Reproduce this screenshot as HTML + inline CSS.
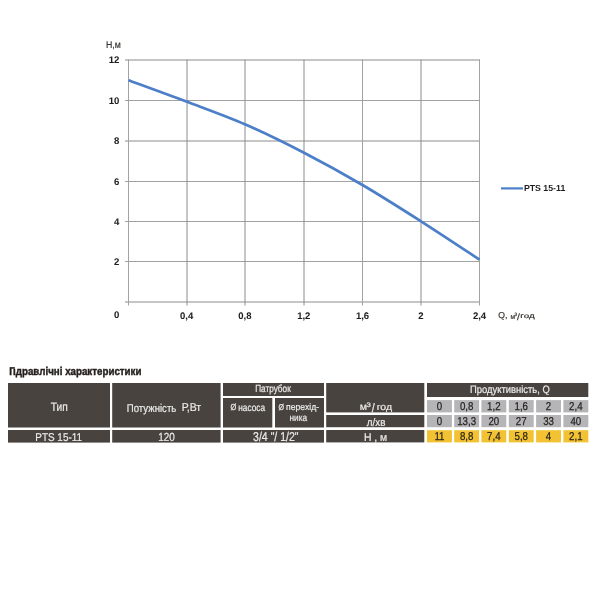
<!DOCTYPE html>
<html><head><meta charset="utf-8"><style>
html,body{margin:0;padding:0;background:#fff;width:600px;height:600px;overflow:hidden}
svg{display:block;font-family:"Liberation Sans",sans-serif;will-change:transform}
text{text-rendering:geometricPrecision}
</style></head><body>
<svg width="600" height="600" viewBox="0 0 600 600">
<rect x="0" y="0" width="600" height="600" fill="#fff"/>
<line x1="125" y1="60.00" x2="480" y2="60.00" stroke="#8c8c8c" stroke-width="1"/>
<line x1="125" y1="100.50" x2="480" y2="100.50" stroke="#a2a2a2" stroke-width="1"/>
<line x1="125" y1="141.00" x2="480" y2="141.00" stroke="#8c8c8c" stroke-width="1"/>
<line x1="125" y1="181.50" x2="480" y2="181.50" stroke="#a2a2a2" stroke-width="1"/>
<line x1="125" y1="221.50" x2="480" y2="221.50" stroke="#a2a2a2" stroke-width="1"/>
<line x1="125" y1="261.50" x2="480" y2="261.50" stroke="#a2a2a2" stroke-width="1"/>
<line x1="125" y1="302.00" x2="480" y2="302.00" stroke="#8c8c8c" stroke-width="1"/>
<line x1="128.50" y1="59.5" x2="128.50" y2="305.5" stroke="#a2a2a2" stroke-width="1"/>
<line x1="187.00" y1="59.5" x2="187.00" y2="305.5" stroke="#8c8c8c" stroke-width="1"/>
<line x1="245.00" y1="59.5" x2="245.00" y2="305.5" stroke="#8c8c8c" stroke-width="1"/>
<line x1="304.00" y1="59.5" x2="304.00" y2="305.5" stroke="#8c8c8c" stroke-width="1"/>
<line x1="362.50" y1="59.5" x2="362.50" y2="305.5" stroke="#a2a2a2" stroke-width="1"/>
<line x1="421.00" y1="59.5" x2="421.00" y2="305.5" stroke="#8c8c8c" stroke-width="1"/>
<line x1="479.50" y1="59.5" x2="479.50" y2="305.5" stroke="#a2a2a2" stroke-width="1"/>
<path d="M128.50,80.17 C138.25,83.76 167.50,94.35 187.00,101.75 C206.50,109.14 226.00,116.03 245.50,124.53 C265.00,133.04 284.50,142.68 304.00,152.77 C323.50,162.85 343.00,173.61 362.50,185.03 C382.00,196.46 401.50,208.90 421.00,221.33 C440.50,233.77 469.75,253.26 479.50,259.65" fill="none" stroke="#4c7fc8" stroke-width="2.7"/>
<line x1="501" y1="188.4" x2="523" y2="188.4" stroke="#4c7fc8" stroke-width="2.2"/>
<rect x="8" y="383" width="102.00" height="44.50" fill="#48433e"/>
<rect x="8" y="430" width="102.00" height="12.60" fill="#48433e"/>
<rect x="112.2" y="383" width="108.40" height="44.50" fill="#48433e"/>
<rect x="112.2" y="430" width="108.40" height="12.60" fill="#48433e"/>
<rect x="223" y="383" width="101.00" height="13.00" fill="#48433e"/>
<rect x="223" y="398" width="49.30" height="29.50" fill="#48433e"/>
<rect x="275" y="398" width="49.00" height="29.50" fill="#48433e"/>
<rect x="223" y="430" width="101.00" height="12.60" fill="#48433e"/>
<rect x="326.2" y="383" width="98.10" height="29.40" fill="#48433e"/>
<rect x="326.2" y="415" width="98.10" height="12.20" fill="#48433e"/>
<rect x="326.2" y="430" width="98.10" height="12.40" fill="#48433e"/>
<rect x="427" y="383" width="161.30" height="14.00" fill="#48433e"/>
<text x="106.00" y="48.00" font-size="9.80" font-weight="normal" fill="#3a3632" stroke="#3a3632" stroke-width="0.2" textLength="14.86" lengthAdjust="spacingAndGlyphs">Н,м</text>
<text x="498.28" y="318.20" font-size="8.57" font-weight="normal" fill="#3a3632" stroke="#3a3632" stroke-width="0.2" textLength="9.12" lengthAdjust="spacingAndGlyphs">Q,</text>
<text x="510.45" y="318.65" font-size="7.03" font-weight="normal" fill="#3a3632" stroke="#3a3632" stroke-width="0.2" textLength="4.55" lengthAdjust="spacingAndGlyphs">м</text>
<text x="514.40" y="316.20" font-size="4.81" font-weight="normal" fill="#3a3632" stroke="#3a3632" stroke-width="0.2" textLength="2.60" lengthAdjust="spacingAndGlyphs">3</text>
<text x="517.00" y="319.60" font-size="9.08" font-weight="normal" fill="#3a3632" stroke="#3a3632" stroke-width="0.2" textLength="2.88" lengthAdjust="spacingAndGlyphs">/</text>
<text x="520.25" y="318.25" font-size="6.56" font-weight="normal" fill="#3a3632" stroke="#3a3632" stroke-width="0.2" textLength="14.46" lengthAdjust="spacingAndGlyphs">год</text>
<text x="523.90" y="191.10" font-size="8.79" font-weight="bold" fill="#1e1e1e" textLength="41.41" lengthAdjust="spacingAndGlyphs">PTS 15-11</text>
<text x="9.25" y="375.25" font-size="11.32" font-weight="bold" fill="#231f1c" stroke="#231f1c" stroke-width="0.45" textLength="132.26" lengthAdjust="spacingAndGlyphs">Г<tspan dx="-2">ı</tspan>дравлічні характеристики</text>
<text x="50.75" y="410.75" font-size="12.15" font-weight="normal" fill="#ececec" stroke="#ececec" stroke-width="0.2" textLength="17.07" lengthAdjust="spacingAndGlyphs">Тип</text>
<text x="126.78" y="411.59" font-size="11.31" font-weight="normal" fill="#ececec" stroke="#ececec" stroke-width="0.2" textLength="49.53" lengthAdjust="spacingAndGlyphs">Потужність</text>
<text x="181.78" y="410.80" font-size="11.40" font-weight="normal" fill="#ececec" stroke="#ececec" stroke-width="0.2" textLength="19.30" lengthAdjust="spacingAndGlyphs">Р,Вт</text>
<text x="35.25" y="440.70" font-size="11.39" font-weight="normal" fill="#ececec" stroke="#ececec" stroke-width="0.2" textLength="46.81" lengthAdjust="spacingAndGlyphs">PTS 15-11</text>
<text x="158.25" y="440.75" font-size="11.75" font-weight="normal" fill="#ececec" stroke="#ececec" stroke-width="0.2" textLength="16.57" lengthAdjust="spacingAndGlyphs">120</text>
<text x="255.15" y="392.30" font-size="10.27" font-weight="normal" fill="#ececec" stroke="#ececec" stroke-width="0.2" textLength="35.60" lengthAdjust="spacingAndGlyphs">Патрубок</text>
<text x="230.45" y="410.40" font-size="8.94" font-weight="normal" fill="#ececec" stroke="#ececec" stroke-width="0.2" textLength="5.84" lengthAdjust="spacingAndGlyphs">Ø</text>
<text x="238.25" y="410.65" font-size="10.06" font-weight="normal" fill="#ececec" stroke="#ececec" stroke-width="0.2" textLength="26.79" lengthAdjust="spacingAndGlyphs">насоса</text>
<text x="278.50" y="409.70" font-size="8.54" font-weight="normal" fill="#ececec" stroke="#ececec" stroke-width="0.2" textLength="5.52" lengthAdjust="spacingAndGlyphs">Ø</text>
<text x="286.10" y="409.75" font-size="9.31" font-weight="normal" fill="#ececec" stroke="#ececec" stroke-width="0.2" textLength="32.96" lengthAdjust="spacingAndGlyphs">перехід-</text>
<text x="289.50" y="421.25" font-size="9.97" font-weight="normal" fill="#ececec" stroke="#ececec" stroke-width="0.2" textLength="17.54" lengthAdjust="spacingAndGlyphs">ника</text>
<text x="253.10" y="440.85" font-size="12.91" font-weight="normal" fill="#ececec" stroke="#ececec" stroke-width="0.2" textLength="45.45" lengthAdjust="spacingAndGlyphs">3/4 &quot;/ 1/2&quot;</text>
<text x="359.75" y="410.05" font-size="9.84" font-weight="normal" fill="#ececec" stroke="#ececec" stroke-width="0.2" textLength="7.26" lengthAdjust="spacingAndGlyphs">м</text>
<text x="366.45" y="407.35" font-size="6.36" font-weight="normal" fill="#ececec" stroke="#ececec" stroke-width="0.2" textLength="4.34" lengthAdjust="spacingAndGlyphs">3</text>
<text x="371.85" y="411.75" font-size="12.43" font-weight="normal" fill="#ececec" stroke="#ececec" stroke-width="0.2" textLength="3.02" lengthAdjust="spacingAndGlyphs">/</text>
<text x="376.70" y="409.70" font-size="9.50" font-weight="normal" fill="#ececec" stroke="#ececec" stroke-width="0.2" textLength="15.31" lengthAdjust="spacingAndGlyphs">год</text>
<text x="366.70" y="425.70" font-size="10.96" font-weight="normal" fill="#ececec" stroke="#ececec" stroke-width="0.2" textLength="18.70" lengthAdjust="spacingAndGlyphs">л/хв</text>
<text x="363.95" y="440.55" font-size="11.13" font-weight="normal" fill="#ececec" stroke="#ececec" stroke-width="0.2" textLength="23.30" lengthAdjust="spacingAndGlyphs">Н , м</text>
<text x="470.10" y="392.95" font-size="10.70" font-weight="normal" fill="#ececec" stroke="#ececec" stroke-width="0.2" textLength="79.71" lengthAdjust="spacingAndGlyphs">Продуктивність, Q</text>
<text x="119.3" y="63" font-size="9.6" font-weight="bold" fill="#1e1e1e" stroke="#1e1e1e" stroke-width="0.05" text-anchor="end">12</text>
<text x="119.3" y="104" font-size="9.6" font-weight="bold" fill="#1e1e1e" stroke="#1e1e1e" stroke-width="0.05" text-anchor="end">10</text>
<text x="119.3" y="144" font-size="9.6" font-weight="bold" fill="#1e1e1e" stroke="#1e1e1e" stroke-width="0.05" text-anchor="end">8</text>
<text x="119.3" y="185" font-size="9.6" font-weight="bold" fill="#1e1e1e" stroke="#1e1e1e" stroke-width="0.05" text-anchor="end">6</text>
<text x="119.3" y="225" font-size="9.6" font-weight="bold" fill="#1e1e1e" stroke="#1e1e1e" stroke-width="0.05" text-anchor="end">4</text>
<text x="119.3" y="265" font-size="9.6" font-weight="bold" fill="#1e1e1e" stroke="#1e1e1e" stroke-width="0.05" text-anchor="end">2</text>
<text x="119.3" y="318" font-size="9.6" font-weight="bold" fill="#1e1e1e" stroke="#1e1e1e" stroke-width="0.05" text-anchor="end">0</text>
<text x="186.60" y="319" font-size="9.50" font-weight="bold" fill="#1e1e1e" stroke="#1e1e1e" stroke-width="0.05" text-anchor="middle">0,4</text>
<text x="244.90" y="319" font-size="9.50" font-weight="bold" fill="#1e1e1e" stroke="#1e1e1e" stroke-width="0.05" text-anchor="middle">0,8</text>
<text x="303.75" y="319" font-size="9.50" font-weight="bold" fill="#1e1e1e" stroke="#1e1e1e" stroke-width="0.05" text-anchor="middle">1,2</text>
<text x="362.50" y="319" font-size="9.50" font-weight="bold" fill="#1e1e1e" stroke="#1e1e1e" stroke-width="0.05" text-anchor="middle">1,6</text>
<text x="421.00" y="319" font-size="9.50" font-weight="bold" fill="#1e1e1e" stroke="#1e1e1e" stroke-width="0.05" text-anchor="middle">2</text>
<text x="479.50" y="319" font-size="9.50" font-weight="bold" fill="#1e1e1e" stroke="#1e1e1e" stroke-width="0.05" text-anchor="middle">2,4</text>
<rect x="427" y="400.1" width="24.90" height="12.30" fill="#b5b4b7"/>
<text x="439.45" y="410.20" font-size="11.46" fill="#231f1c" stroke="#231f1c" stroke-width="0.25" text-anchor="middle" transform="translate(439.45 0) scale(0.846 1) translate(-439.45 0)">0</text>
<rect x="454.2" y="400.1" width="24.90" height="12.30" fill="#b5b4b7"/>
<text x="466.65" y="410.20" font-size="11.46" fill="#231f1c" stroke="#231f1c" stroke-width="0.25" text-anchor="middle" transform="translate(466.65 0) scale(0.846 1) translate(-466.65 0)">0,8</text>
<rect x="481.4" y="400.1" width="24.90" height="12.30" fill="#b5b4b7"/>
<text x="493.85" y="410.20" font-size="11.46" fill="#231f1c" stroke="#231f1c" stroke-width="0.25" text-anchor="middle" transform="translate(493.85 0) scale(0.846 1) translate(-493.85 0)">1,2</text>
<rect x="508.8" y="400.1" width="24.90" height="12.30" fill="#b5b4b7"/>
<text x="521.25" y="410.20" font-size="11.46" fill="#231f1c" stroke="#231f1c" stroke-width="0.25" text-anchor="middle" transform="translate(521.25 0) scale(0.846 1) translate(-521.25 0)">1,6</text>
<rect x="536.1" y="400.1" width="24.90" height="12.30" fill="#b5b4b7"/>
<text x="548.55" y="410.20" font-size="11.46" fill="#231f1c" stroke="#231f1c" stroke-width="0.25" text-anchor="middle" transform="translate(548.55 0) scale(0.846 1) translate(-548.55 0)">2</text>
<rect x="563.4" y="400.1" width="24.90" height="12.30" fill="#b5b4b7"/>
<text x="575.85" y="410.20" font-size="11.46" fill="#231f1c" stroke="#231f1c" stroke-width="0.25" text-anchor="middle" transform="translate(575.85 0) scale(0.846 1) translate(-575.85 0)">2,4</text>
<rect x="427" y="415" width="24.90" height="12.20" fill="#b5b4b7"/>
<text x="439.45" y="425.20" font-size="11.46" fill="#231f1c" stroke="#231f1c" stroke-width="0.25" text-anchor="middle" transform="translate(439.45 0) scale(0.846 1) translate(-439.45 0)">0</text>
<rect x="454.2" y="415" width="24.90" height="12.20" fill="#b5b4b7"/>
<text x="466.65" y="425.20" font-size="11.46" fill="#231f1c" stroke="#231f1c" stroke-width="0.25" text-anchor="middle" transform="translate(466.65 0) scale(0.846 1) translate(-466.65 0)">13,3</text>
<rect x="481.4" y="415" width="24.90" height="12.20" fill="#b5b4b7"/>
<text x="493.85" y="425.20" font-size="11.46" fill="#231f1c" stroke="#231f1c" stroke-width="0.25" text-anchor="middle" transform="translate(493.85 0) scale(0.846 1) translate(-493.85 0)">20</text>
<rect x="508.8" y="415" width="24.90" height="12.20" fill="#b5b4b7"/>
<text x="521.25" y="425.20" font-size="11.46" fill="#231f1c" stroke="#231f1c" stroke-width="0.25" text-anchor="middle" transform="translate(521.25 0) scale(0.846 1) translate(-521.25 0)">27</text>
<rect x="536.1" y="415" width="24.90" height="12.20" fill="#b5b4b7"/>
<text x="548.55" y="425.20" font-size="11.46" fill="#231f1c" stroke="#231f1c" stroke-width="0.25" text-anchor="middle" transform="translate(548.55 0) scale(0.846 1) translate(-548.55 0)">33</text>
<rect x="563.4" y="415" width="24.90" height="12.20" fill="#b5b4b7"/>
<text x="575.85" y="425.20" font-size="11.46" fill="#231f1c" stroke="#231f1c" stroke-width="0.25" text-anchor="middle" transform="translate(575.85 0) scale(0.846 1) translate(-575.85 0)">40</text>
<rect x="427" y="430.2" width="24.90" height="12.20" fill="#f2c232"/>
<text x="439.45" y="439.80" font-size="11.46" fill="#231f1c" stroke="#231f1c" stroke-width="0.25" text-anchor="middle" transform="translate(439.45 0) scale(0.846 1) translate(-439.45 0)">11</text>
<rect x="454.2" y="430.2" width="24.90" height="12.20" fill="#f2c232"/>
<text x="466.65" y="439.80" font-size="11.46" fill="#231f1c" stroke="#231f1c" stroke-width="0.25" text-anchor="middle" transform="translate(466.65 0) scale(0.846 1) translate(-466.65 0)">8,8</text>
<rect x="481.4" y="430.2" width="24.90" height="12.20" fill="#f2c232"/>
<text x="493.85" y="439.80" font-size="11.46" fill="#231f1c" stroke="#231f1c" stroke-width="0.25" text-anchor="middle" transform="translate(493.85 0) scale(0.846 1) translate(-493.85 0)">7,4</text>
<rect x="508.8" y="430.2" width="24.90" height="12.20" fill="#f2c232"/>
<text x="521.25" y="439.80" font-size="11.46" fill="#231f1c" stroke="#231f1c" stroke-width="0.25" text-anchor="middle" transform="translate(521.25 0) scale(0.846 1) translate(-521.25 0)">5,8</text>
<rect x="536.1" y="430.2" width="24.90" height="12.20" fill="#f2c232"/>
<text x="548.55" y="439.80" font-size="11.46" fill="#231f1c" stroke="#231f1c" stroke-width="0.25" text-anchor="middle" transform="translate(548.55 0) scale(0.846 1) translate(-548.55 0)">4</text>
<rect x="563.4" y="430.2" width="24.90" height="12.20" fill="#f2c232"/>
<text x="575.85" y="439.80" font-size="11.46" fill="#231f1c" stroke="#231f1c" stroke-width="0.25" text-anchor="middle" transform="translate(575.85 0) scale(0.846 1) translate(-575.85 0)">2,1</text>
</svg>
</body></html>
